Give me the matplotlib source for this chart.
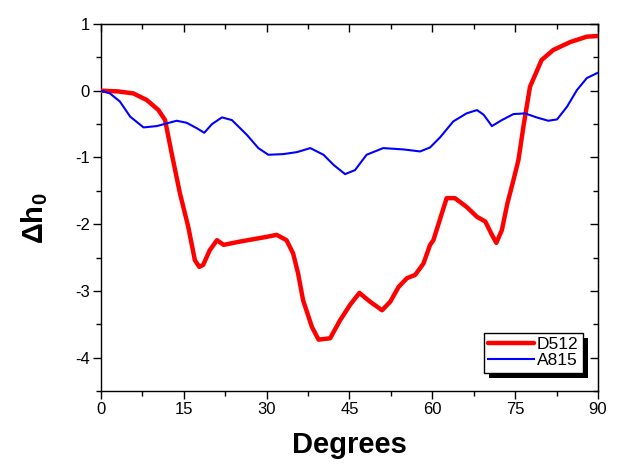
import numpy as np
import matplotlib
matplotlib.use("Agg")
import matplotlib.pyplot as plt
from matplotlib.patches import Rectangle
from matplotlib.ticker import MultipleLocator

plt.rcParams['font.family'] = ['Liberation Sans', 'DejaVu Sans']
plt.rcParams['axes.unicode_minus'] = False
plt.rcParams['mathtext.fontset'] = 'custom'
plt.rcParams['mathtext.rm'] = 'Liberation Sans:bold'
plt.rcParams['mathtext.bf'] = 'Liberation Sans:bold'
plt.rcParams['mathtext.it'] = 'Liberation Sans:bold'

# data
d512_x = [0, 3.0, 5.85, 8.3, 10.4, 11.6, 12.8, 14.3, 15.8, 17.0, 17.8, 18.5, 19.7, 21.0,
          22.2, 25.2, 30.0, 31.8, 33.6, 34.8, 35.7, 36.6, 38.2, 39.4, 41.5, 43.3,
          45.1, 46.8, 48.7, 50.9, 52.4, 53.9, 55.4, 56.9, 58.4, 59.6, 60.2, 62.6,
          64.1, 66.2, 68.1, 69.6, 70.8, 71.6, 72.6, 73.6, 74.7, 75.6, 76.5, 77.7,
          79.8, 81.9, 85.0, 88.0, 90]
d512_y = [0, -0.01, -0.04, -0.14, -0.29, -0.44, -0.94, -1.54, -2.04, -2.54, -2.64, -2.61,
          -2.39, -2.24, -2.31, -2.26, -2.19, -2.16, -2.24, -2.44, -2.74, -3.14, -3.54,
          -3.73, -3.71, -3.44, -3.21, -3.03, -3.16, -3.29, -3.16, -2.94, -2.81, -2.76,
          -2.59, -2.31, -2.24, -1.61, -1.61, -1.74, -1.89, -1.96, -2.16, -2.28, -2.09,
          -1.69, -1.34, -1.04, -0.54, 0.06, 0.46, 0.61, 0.73, 0.81, 0.82]

a815_x = [0, 1.6, 3.4, 5.3, 7.7, 10.1, 11.9, 13.7, 15.5, 17.3, 18.7, 20.1, 21.9, 23.7,
          26.4, 28.5, 30.3, 33.0, 35.5, 37.9, 40.3, 42.1, 44.2, 46.0, 48.1, 51.1,
          54.8, 57.8, 59.6, 61.4, 63.8, 66.2, 68.1, 69.3, 70.8, 72.6, 74.7, 76.8,
          78.9, 81.0, 82.6, 84.4, 86.2, 88.0, 90]
a815_y = [0, -0.04, -0.16, -0.39, -0.55, -0.53, -0.49, -0.45, -0.48, -0.56, -0.63,
          -0.5, -0.4, -0.44, -0.66, -0.86, -0.96, -0.95, -0.92, -0.86, -0.96, -1.11,
          -1.25, -1.19, -0.96, -0.86, -0.88, -0.91, -0.85, -0.7, -0.46, -0.34, -0.29,
          -0.36, -0.53, -0.44, -0.35, -0.34, -0.40, -0.45, -0.43, -0.24, 0.01, 0.19,
          0.27]

fig = plt.figure(figsize=(6.29, 4.74), dpi=100)
ax = fig.add_axes([0.1606, 0.1751, 0.79, 0.7743])

ax.plot(d512_x, d512_y, color='#ff0000', lw=3.2, label='D512', zorder=3,
        solid_joinstyle='round', solid_capstyle='round')
ax.plot(a815_x, a815_y, color='#0000ff', lw=1.5, label='A815', zorder=3,
        solid_joinstyle='round')

ax.set_xlim(0, 90)
ax.set_ylim(-4.5, 1)
ax.xaxis.set_major_locator(MultipleLocator(15))
ax.xaxis.set_minor_locator(MultipleLocator(7.5))
ax.yaxis.set_major_locator(MultipleLocator(1))
ax.yaxis.set_minor_locator(MultipleLocator(0.5))
ax.tick_params(which='both', direction='out', width=1, labelsize=12, colors='black')
ax.tick_params(which='major', length=6, pad=2)
ax.tick_params(which='minor', length=3.5)
for s in ax.spines.values():
    s.set_linewidth(1)

# mirrored inward ticks on top and right
top = ax.secondary_xaxis('top')
top.xaxis.set_major_locator(MultipleLocator(15))
top.xaxis.set_minor_locator(MultipleLocator(7.5))
top.tick_params(which='both', direction='in', labeltop=False, width=1)
top.tick_params(which='major', length=6)
top.tick_params(which='minor', length=3.5)
right = ax.secondary_yaxis('right')
right.yaxis.set_major_locator(MultipleLocator(1))
right.yaxis.set_minor_locator(MultipleLocator(0.5))
right.tick_params(which='both', direction='in', labelright=False, width=1)
right.tick_params(which='major', length=6)
right.tick_params(which='minor', length=3.5)

ax.set_xlabel('Degrees', fontsize=21, fontweight='bold', labelpad=10)
ax.set_ylabel(r'$\mathbf{\Delta h_0}$', fontsize=21)
ax.yaxis.set_label_coords(-0.102, 0.47)

leg = ax.legend(loc='lower right', bbox_to_anchor=(0.97, 0.05), fontsize=12.5,
                frameon=True, fancybox=False, edgecolor='black', framealpha=1,
                borderpad=0.25, labelspacing=0.05, handletextpad=0.2,
                handlelength=2.6, borderaxespad=0)
leg.get_frame().set_linewidth(1)
leg.set_zorder(6)

fig.canvas.draw()
bb = leg.get_window_extent()
shadow = Rectangle((bb.x0 + 5, bb.y0 - 5), bb.width, bb.height, transform=None,
                   facecolor='black', edgecolor='none', zorder=5, clip_on=False)
ax.add_artist(shadow)

fig.savefig('out.png', dpi=100)
